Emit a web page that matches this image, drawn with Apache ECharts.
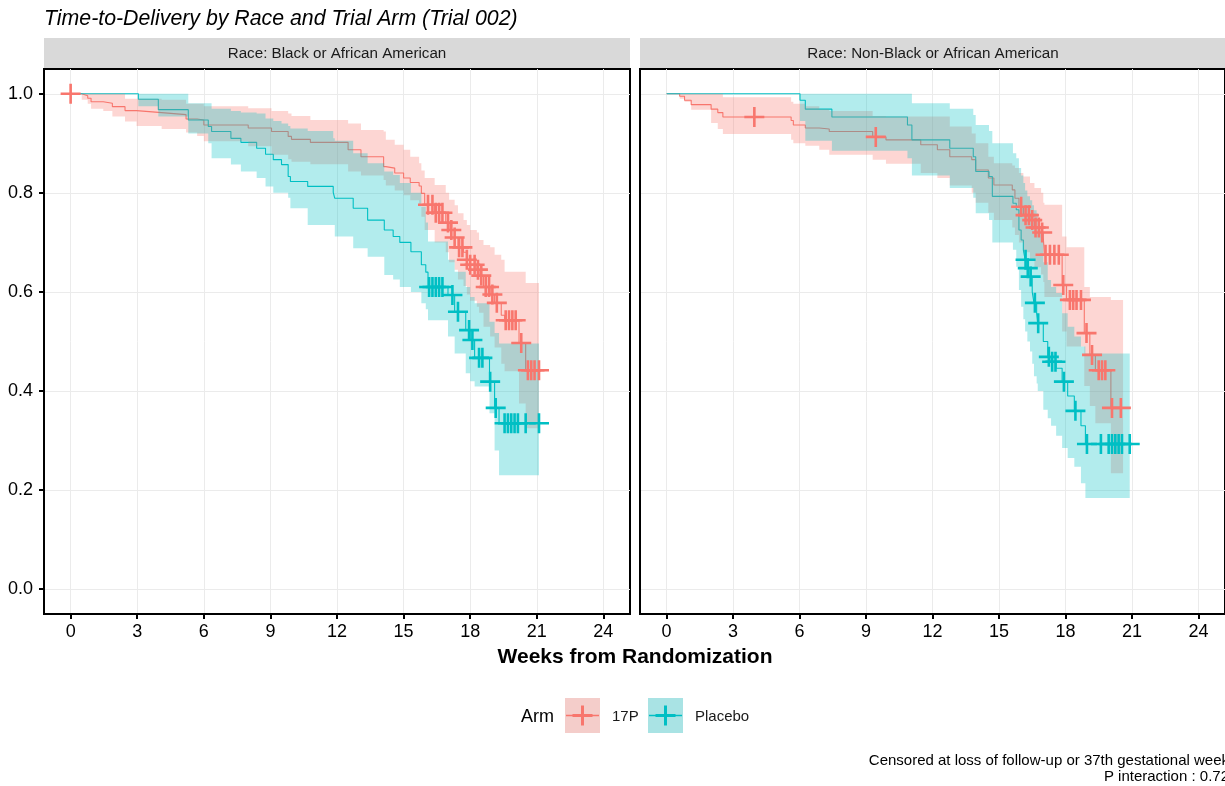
<!DOCTYPE html>
<html><head><meta charset="utf-8">
<script src="https://cdn.jsdelivr.net/npm/echarts@6/dist/echarts.min.js"></script>
<style>html,body{margin:0;padding:0;background:#fff;}#chart{width:1225px;height:786px;}</style>
</head><body><div id="chart"></div>
<script>
// ---------- DATA ----------
const xTicks = [0, 3, 6, 9, 12, 15, 18, 21, 24];
const yTicks = [0, 0.2, 0.4, 0.6, 0.8, 1.0];
const panelTitles = ['Race: Black or African American', 'Race: Non-Black or African American'];
const armNames = ['17P', 'Placebo'];

// Panel 1: Black or African American, 17P
const black17pTime  = [0, 0.5, 0.77, 0.92, 1.47, 1.88, 2.45, 2.97, 4.1, 5.2, 5.7, 6.0, 8.0, 9.05, 9.8, 9.95, 10.8, 12.5, 13.08, 14.1, 14.2, 14.6, 15.0, 15.3, 15.7, 15.8, 15.95, 16.4, 16.9, 17.05, 17.3, 17.45, 17.7, 17.85, 18.0, 18.3, 18.4, 18.6, 18.9, 19.1, 19.4, 19.55, 20.2, 20.5, 21.1];
const black17pSurv  = [1, .996, .991, .984, .981, .974, .966, .962, .958, .949, .947, .937, .931, .924, .914, .908, .902, .887, .873, .853, .850, .840, .830, .821, .814, .799, .776, .76, .74, .725, .71, .69, .68, .665, .655, .645, .633, .61, .595, .578, .553, .543, .497, .442, .442];
const black17pLower = [1, .988, .98, .97, .965, .954, .944, .935, .929, .922, .915, .904, .894, .877, .868, .863, .858, .843, .835, .826, .815, .805, .795, .785, .775, .752, .725, .70, .68, .66, .645, .625, .612, .595, .582, .57, .558, .53, .51, .488, .455, .44, .375, .325, .325];
const black17pUpper = [1, 1, 1, 1, 1, 1, .99, .99, .988, .98, .98, .975, .971, .965, .96, .955, .947, .94, .927, .924, .907, .897, .887, .873, .86, .845, .83, .816, .80, .786, .775, .759, .745, .735, .725, .72, .705, .695, .69, .675, .665, .641, .641, .618, .618];
const black17pCensor = [0, 16.1, 16.3, 16.45, 16.6, 16.75, 17.0, 17.15, 17.3, 17.5, 17.65, 17.85, 18.0, 18.2, 18.35, 18.5, 18.7, 18.85, 19.0, 19.2, 19.6, 19.75, 19.9, 20.05, 20.3, 20.6, 20.75, 20.9, 21.1];

// Panel 1: Black or African American, Placebo
const blackPlaTime  = [0, 3.05, 3.95, 5.3, 6.2, 6.35, 7.22, 7.67, 8.38, 8.78, 9.13, 9.5, 9.8, 9.9, 10.68, 11.83, 11.9, 12.73, 13.38, 14.13, 14.53, 14.83, 15.33, 15.8, 16.0, 16.1, 17.0, 17.3, 17.8, 18.0, 18.2, 18.87, 19.1, 19.3, 21.1];
const blackPlaSurv  = [1, .989, .968, .947, .934, .924, .910, .902, .890, .878, .867, .857, .833, .823, .813, .801, .789, .769, .745, .725, .712, .700, .681, .655, .64, .61, .594, .56, .523, .503, .467, .419, .366, .335, .335];
const blackPlaLower = [1, .975, .954, .92, .90, .87, .857, .843, .83, .813, .80, .80, .79, .769, .735, .735, .712, .688, .671, .634, .625, .61, .60, .577, .565, .543, .51, .476, .436, .42, .409, .355, .28, .23, .23];
const blackPlaUpper = [1, 1, 1, .981, .981, .97, .965, .962, .96, .95, .945, .94, .935, .93, .925, .91, .905, .88, .86, .843, .836, .82, .80, .772, .74, .702, .665, .641, .61, .59, .577, .54, .517, .496, .496];
const blackPlaCensor = [16.15, 16.3, 16.45, 16.6, 16.75, 17.2, 17.45, 17.95, 18.1, 18.4, 18.55, 18.9, 19.15, 19.55, 19.7, 19.85, 20.0, 20.15, 20.5, 21.1];

// Panel 2: Non-Black or African American, 17P
const nonBlack17pTime  = [0, 0.59, 0.81, 1.11, 2.01, 2.31, 2.54, 5.62, 5.72, 6.26, 6.89, 7.34, 9.3, 9.9, 11.47, 12.22, 12.78, 13.77, 13.95, 14.52, 14.77, 15.6, 15.72, 15.9, 16.1, 16.4, 16.6, 16.9, 17.0, 17.05, 17.85, 18.05, 18.85, 19.1, 19.35, 20.05, 20.6];
const nonBlack17pSurv  = [1, .995, .987, .978, .969, .962, .953, .946, .937, .931, .929, .924, .913, .907, .897, .887, .873, .867, .846, .83, .816, .806, .789, .772, .755, .745, .73, .72, .71, .675, .614, .584, .517, .473, .442, .366, .366];
const nonBlack17pLower = [1, .99, .984, .968, .941, .929, .919, .907, .90, .895, .887, .877, .867, .859, .84, .83, .815, .80, .78, .76, .745, .73, .715, .70, .68, .665, .65, .635, .62, .59, .52, .49, .41, .37, .335, .234, .234];
const nonBlack17pUpper = [1, 1, 1, 1, 1, 1, .993, .984, .98, .975, .969, .965, .955, .954, .954, .954, .934, .92, .90, .873, .86, .855, .85, .84, .833, .82, .81, .80, .78, .776, .712, .69, .61, .59, .59, .584, .584];
const nonBlack17pCensor = [3.96, 9.44, 16.0, 16.2, 16.35, 16.5, 16.65, 16.8, 16.95, 17.1, 17.3, 17.5, 17.7, 17.9, 18.2, 18.35, 18.5, 18.7, 18.95, 19.2, 19.5, 19.65, 19.8, 20.1, 20.5];

// Panel 2: Non-Black or African American, Placebo
const nonBlackPlaTime  = [0, 6.02, 6.26, 7.46, 10.87, 11.07, 12.78, 13.84, 13.95, 14.55, 14.7, 15.63, 15.78, 15.9, 16.0, 16.1, 16.18, 16.28, 16.4, 16.5, 16.58, 16.7, 16.75, 17.0, 17.2, 17.35, 17.58, 17.85, 18.1, 18.4, 18.7, 18.9, 20.9];
const nonBlackPlaSurv  = [1, .987, .969, .953, .937, .907, .89, .873, .843, .833, .793, .779, .766, .725, .705, .685, .665, .648, .631, .60, .578, .557, .537, .50, .469, .459, .446, .419, .39, .36, .33, .293, .293];
const nonBlackPlaLower = [1, .945, .905, .885, .87, .835, .81, .79, .759, .745, .70, .685, .651, .604, .57, .545, .52, .50, .48, .455, .43, .415, .40, .362, .345, .33, .31, .285, .265, .247, .214, .184, .184];
const nonBlackPlaUpper = [1, 1, 1, 1, 1, .981, .97, .957, .937, .925, .90, .88, .87, .85, .835, .82, .805, .793, .785, .775, .765, .759, .72, .66, .624, .61, .598, .557, .53, .51, .49, .476, .476];
const nonBlackPlaCensor = [16.2, 16.3, 16.43, 16.62, 16.77, 17.25, 17.4, 17.55, 17.93, 18.45, 18.97, 19.6, 19.95, 20.1, 20.25, 20.4, 20.55, 20.9];

// ---------- STYLE ----------
const FONT = "'Liberation Sans', Arial, sans-serif";
const RED = '#F8766D', TEAL = '#00BFC4';
const RED_FILL = 'rgba(248,118,109,0.3)', TEAL_FILL = 'rgba(0,191,196,0.3)';
const PLUS = 'path://M0,8.7H20V11.3H0Z M8.7,0H11.3V20H8.7Z';
const GRID_TOP = 69, GRID_H = 545, GRID_W = 586;
const GRID_LEFT = [44, 640];

function survAt(time, surv, t) {
  let v = surv[0];
  for (let i = 0; i < time.length; i++) { if (time[i] <= t) v = surv[i]; }
  return v;
}

const groups = [
  {panel: 0, arm: 0, time: black17pTime, surv: black17pSurv, lo: black17pLower, hi: black17pUpper, cens: black17pCensor},
  {panel: 0, arm: 1, time: blackPlaTime, surv: blackPlaSurv, lo: blackPlaLower, hi: blackPlaUpper, cens: blackPlaCensor},
  {panel: 1, arm: 0, time: nonBlack17pTime, surv: nonBlack17pSurv, lo: nonBlack17pLower, hi: nonBlack17pUpper, cens: nonBlack17pCensor},
  {panel: 1, arm: 1, time: nonBlackPlaTime, surv: nonBlackPlaSurv, lo: nonBlackPlaLower, hi: nonBlackPlaUpper, cens: nonBlackPlaCensor}
];

const series = [];
groups.forEach(g => {
  const col = g.arm === 0 ? RED : TEAL;
  series.push({
    type: 'line', name: armNames[g.arm], xAxisIndex: g.panel, yAxisIndex: g.panel,
    step: 'end', showSymbol: false, symbol: 'none', z: 2,
    lineStyle: {color: col, width: 1.1},
    data: g.time.map((t, i) => [t, g.surv[i]])
  });
});
groups.forEach(g => {
  const fill = g.arm === 0 ? RED_FILL : TEAL_FILL;
  series.push({
    type: 'custom', xAxisIndex: g.panel, yAxisIndex: g.panel, z: 3 + g.arm, silent: true, clip: true,
    data: g.time.map((t, i) => [t, g.lo[i], g.hi[i]]),
    encode: {x: 0, y: [1, 2]},
    renderItem: function (params, api) {
      if (params.dataIndex !== 0) return null;
      const up = [], dn = [];
      const n = g.time.length;
      for (let i = 0; i < n; i++) {
        const tNext = i < n - 1 ? g.time[i + 1] : g.time[i];
        up.push(api.coord([g.time[i], g.hi[i]]), api.coord([tNext, g.hi[i]]));
        dn.push(api.coord([g.time[i], g.lo[i]]), api.coord([tNext, g.lo[i]]));
      }
      return {type: 'polygon', shape: {points: up.concat(dn.reverse())}, style: {fill: fill}};
    }
  });
});
groups.forEach(g => {
  const col = g.arm === 0 ? RED : TEAL;
  series.push({
    type: 'scatter', xAxisIndex: g.panel, yAxisIndex: g.panel, z: 6, silent: true,
    symbol: PLUS, symbolSize: 20, itemStyle: {color: col, opacity: 1},
    data: g.cens.map(t => [t, survAt(g.time, g.surv, t)])
  });
});

const xAxes = [0, 1].map(i => ({
  type: 'value', gridIndex: i, min: -1.2, max: 25.2, position: 'bottom',
  axisLine: {show: true, onZero: false, lineStyle: {color: '#000', width: 2}},
  axisTick: {show: true, inside: false, length: 5, lineStyle: {color: '#000', width: 2}, customValues: xTicks},
  axisLabel: {customValues: xTicks, fontSize: 18, color: '#000', margin: 9, fontFamily: FONT},
  splitLine: {show: true, lineStyle: {color: '#EBEBEB', width: 1}}
}));
const yAxes = [0, 1].map(i => ({
  type: 'value', gridIndex: i, min: -0.05, max: 1.05, position: 'left',
  axisLine: {show: true, onZero: false, lineStyle: {color: '#000', width: 2}},
  axisTick: {show: i === 0, inside: false, length: 5, lineStyle: {color: '#000', width: 2}, customValues: yTicks},
  axisLabel: {show: i === 0, customValues: yTicks, fontSize: 18, color: '#000', margin: 11, fontFamily: FONT,
              formatter: v => v.toFixed(1)},
  splitLine: {show: true, lineStyle: {color: '#EBEBEB', width: 1}}
}));

const graphic = [];
// title
graphic.push({type: 'text', x: 44, y: 19, style: {text: 'Time-to-Delivery by Race and Trial Arm (Trial 002)',
  font: 'italic 21.3px ' + FONT, fill: '#000', verticalAlign: 'middle'}});
// strips
panelTitles.forEach((t, i) => {
  graphic.push({type: 'rect', shape: {x: GRID_LEFT[i], y: 38, width: GRID_W, height: 30}, style: {fill: '#D9D9D9'}});
  graphic.push({type: 'text', x: GRID_LEFT[i] + GRID_W / 2, y: 54, style: {text: t, font: '15.2px ' + FONT,
    fill: '#1A1A1A', align: 'center', verticalAlign: 'middle'}});
});
// x title
graphic.push({type: 'text', x: 635, y: 657, style: {text: 'Weeks from Randomization', font: 'bold 21px ' + FONT,
  fill: '#000', align: 'center', verticalAlign: 'middle'}});
// legend
graphic.push({type: 'text', x: 521, y: 717, style: {text: 'Arm', font: '18px ' + FONT, fill: '#000', verticalAlign: 'middle'}});
const keyX = [565, 648], keyCols = [RED, TEAL], keyFills = [RED_FILL, TEAL_FILL], labX = [612, 695];
armNames.forEach((a, i) => {
  graphic.push({type: 'rect', shape: {x: keyX[i], y: 698, width: 35, height: 35}, style: {fill: '#F2F2F2'}});
  graphic.push({type: 'rect', shape: {x: keyX[i], y: 698, width: 35, height: 35}, style: {fill: keyFills[i]}});
  graphic.push({type: 'line', shape: {x1: keyX[i] + 1, y1: 715.5, x2: keyX[i] + 34, y2: 715.5}, style: {stroke: keyCols[i], lineWidth: 1.5}});
  graphic.push({type: 'rect', shape: {x: keyX[i] + 7.5, y: 714, width: 20, height: 3}, style: {fill: keyCols[i]}});
  graphic.push({type: 'rect', shape: {x: keyX[i] + 16, y: 705.5, width: 3, height: 20}, style: {fill: keyCols[i]}});
  graphic.push({type: 'text', x: labX[i], y: 717, style: {text: a, font: '15px ' + FONT, fill: '#1A1A1A', verticalAlign: 'middle'}});
});
// caption
graphic.push({type: 'text', x: 1229, y: 761, style: {text: 'Censored at loss of follow-up or 37th gestational week',
  font: '15px ' + FONT, fill: '#000', align: 'right', verticalAlign: 'middle'}});
graphic.push({type: 'text', x: 1229, y: 777, style: {text: 'P interaction : 0.72',
  font: '15px ' + FONT, fill: '#000', align: 'right', verticalAlign: 'middle'}});

const chart = echarts.init(document.getElementById('chart'), null, {renderer: 'canvas'});
chart.setOption({
  animation: false,
  backgroundColor: '#fff',
  grid: GRID_LEFT.map(l => ({left: l, top: GRID_TOP, width: GRID_W, height: GRID_H, show: true,
    borderColor: '#000', borderWidth: 2, backgroundColor: '#fff', containLabel: false})),
  xAxis: xAxes,
  yAxis: yAxes,
  series: series,
  graphic: graphic
});
</script></body></html>
